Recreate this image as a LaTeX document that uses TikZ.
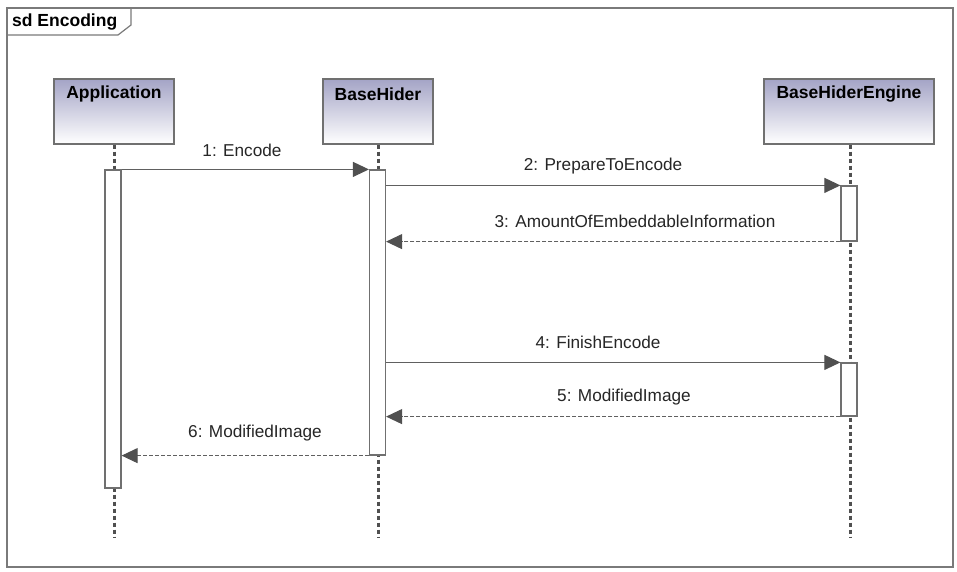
\documentclass[tikz,border=0pt]{standalone}
\usepackage{fontspec}
\setmainfont{Liberation Sans}
\usetikzlibrary{arrows.meta}
\definecolor{linegray}{HTML}{606060}
\definecolor{boxgray}{HTML}{707070}
\definecolor{headgray}{HTML}{505050}
\definecolor{framegray}{HTML}{7A7A7A}
\definecolor{lavender}{RGB}{164,164,198}
\tikzset{
  lifebox/.style={draw=boxgray, line width=1.3pt, top color=lavender, bottom color=white, minimum height=65pt, inner sep=0pt, rectangle},
  boxlabel/.style={font=\fontsize{17.5}{19}\selectfont\bfseries, inner sep=0pt, anchor=center},
  lifeline/.style={draw=headgray, line width=3pt, dash pattern=on 4pt off 3pt},
  actbar/.style={draw=boxgray, fill=white, line width=1.2pt, minimum width=16pt, inner sep=0pt, rectangle},
  msg/.style={draw=linegray, line width=1pt, -{Triangle[length=16pt,width=15pt,fill=headgray,color=headgray]}},
  retmsg/.style={msg, dash pattern=on 4pt off 2pt},
  msglabel/.style={font=\fontsize{17.2}{19}\selectfont, inner sep=0pt, text=black!85}
}
\begin{document}
\begin{tikzpicture}[x=1pt,y=-1pt]
\useasboundingbox (0,0) rectangle (957,571);
\fill[white] (0,0) rectangle (957,571);
% frame
\draw[framegray, line width=1.5pt] (7,8) rectangle (953,567);
\draw[framegray, line width=1.2pt] (7,35) -- (118,35) -- (131,25) -- (131,8);
\node[font=\fontsize{17.5}{19}\selectfont\bfseries, anchor=west, inner sep=0pt] (title) at (12,22) {sd Encoding};
% lifeline heads
\node[lifebox, minimum width=120pt] (app) at (114,111.5) {};
\node[lifebox, minimum width=110pt] (bh) at (378,111.5) {};
\node[lifebox, minimum width=170pt] (bhe) at (849,111.5) {};
\node[boxlabel] (apptxt) at ([yshift=-16pt]app.north) {Application};
\node[boxlabel] (bhtxt) at ([yshift=-16pt]bh.north) {BaseHider};
\node[boxlabel] (bhetxt) at ([yshift=-16pt]bhe.north) {BaseHiderEngine};
% lifeline ends
\coordinate (append) at (114,538);
\coordinate (bhend) at (378,538);
\coordinate (bheend) at (850,538);
\draw[lifeline] (app.south -| append) -- (append);
\draw[lifeline] (bh.south -| bhend) -- (bhend);
\draw[lifeline] (bhe.south -| bheend) -- (bheend);
% activation bars
\node[actbar, minimum height=318pt] (a1) at (113,329) {};
\node[actbar, minimum height=285pt] (a2) at (377.5,312.5) {};
\node[actbar, minimum height=55pt] (e1) at (849,213.5) {};
\node[actbar, minimum height=53pt] (e2) at (849,389.5) {};
% messages
\draw[msg] (a1.north east) -- (a2.north west);
\draw[msg] (a2.east |- e1.north) -- (e1.north west);
\draw[retmsg] (e1.south west) -- (a2.east |- e1.south);
\draw[msg] (a2.east |- e2.north) -- (e2.north west);
\draw[retmsg] (e2.south west) -- (a2.east |- e2.south);
\draw[retmsg] (a2.south west) -- (a1.east |- a2.south);
% labels
\node[msglabel] (l1) at (242,150) {1: Encode};
\node[msglabel] (l2) at (603,166) {2: PrepareToEncode};
\node[msglabel] (l3) at (635,221) {3: AmountOfEmbeddableInformation};
\node[msglabel] (l4) at (598,342) {4: FinishEncode};
\node[msglabel] (l5) at (624,397) {5: ModifiedImage};
\node[msglabel] (l6) at (255,433) {6: ModifiedImage};
\end{tikzpicture}
\end{document}
